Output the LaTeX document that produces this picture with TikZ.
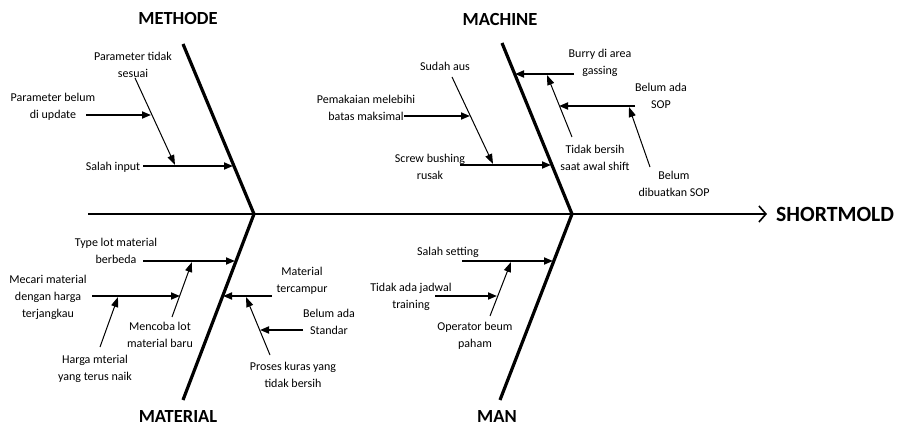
\documentclass[tikz,border=0pt]{standalone}
\usepackage{fontspec}
\setmainfont{Carlito}
\usetikzlibrary{arrows.meta}
\begin{document}
\begin{tikzpicture}[x=1pt,y=-1pt,
  bone/.style={line width=3.2pt},
  spine/.style={line width=2.8pt,-{Straight Barb[length=7pt,width=16pt,line width=1.6pt]}},
  harr/.style={line width=1.7pt,-{Triangle[length=9pt,width=7pt]}},
  darr/.style={line width=1pt,-{Triangle[length=10pt,width=7pt]}},
  cat/.style={font=\fontsize{18.5}{20}\selectfont\bfseries},
  head/.style={font=\fontsize{21.7}{24}\selectfont\bfseries,anchor=west,inner sep=0pt},
  cause/.style={font=\fontsize{12}{17}\selectfont,align=center,inner sep=0pt}]
\useasboundingbox (0,0) rectangle (902,427);
% spine
\coordinate (s0) at (88,214);
\coordinate (s1) at (767,214);
\draw[spine] (s0) -- (s1);
\node[head] (effect) at (776,214) {SHORTMOLD};
% bones
\coordinate (mt) at (183,44);  \coordinate (mb) at (254,214);
\coordinate (ct) at (502,43);  \coordinate (cb) at (572,214);
\coordinate (at) at (254,214); \coordinate (ab) at (183,400);
\coordinate (nt) at (572,214); \coordinate (nb) at (500,400);
\draw[bone] (mt) -- (mb);
\draw[bone] (ct) -- (cb);
\draw[bone] (at) -- (ab);
\draw[bone] (nt) -- (nb);
\node[cat] (lmethode) at (178,19) {METHODE};
\node[cat] (lmachine) at (500,20) {MACHINE};
\node[cat] (lmaterial) at (178,417) {MATERIAL};
\node[cat] (lman) at (497,417) {MAN};

% METHODE
\node[cause] (tm1) at (113,167) {Salah input};
\coordinate (m1a) at (143,166); \coordinate (m1b) at (233,166);
\draw[harr] (m1a) -- (m1b);
\node[cause] (tm2) at (133,65) {Parameter tidak\\sesuai};
\coordinate (m2a) at (135,78); \coordinate (m2b) at (175,165);
\draw[darr] (m2a) -- (m2b);
\node[cause] (tm3) at (53,107) {Parameter belum\\di update};
\coordinate (m3a) at (86,115); \coordinate (m3b) at (151,115);
\draw[harr] (m3a) -- (m3b);

% MACHINE
\node[cause] (tc1) at (430,167) {Screw bushing\\rusak};
\coordinate (c1a) at (460,165); \coordinate (c1b) at (551,165);
\draw[harr] (c1a) -- (c1b);
\node[cause] (tc2) at (445,66) {Sudah aus};
\coordinate (c2a) at (452,77); \coordinate (c2b) at (493,164);
\draw[darr] (c2a) -- (c2b);
\node[cause] (tc3) at (366,108) {Pemakaian melebihi\\batas maksimal};
\coordinate (c3a) at (404,116); \coordinate (c3b) at (470,116);
\draw[harr] (c3a) -- (c3b);
\node[cause] (tc4) at (600,63) {Burry di area\\gassing};
\coordinate (c4a) at (574,74); \coordinate (c4b) at (515,74);
\draw[harr] (c4a) -- (c4b);
\node[cause] (tc5) at (595,158) {Tidak bersih\\saat awal shift};
\coordinate (c5a) at (572,137); \coordinate (c5b) at (547,75);
\draw[darr] (c5a) -- (c5b);
\node[cause] (tc6) at (661,96) {Belum ada\\SOP};
\coordinate (c6a) at (635,106); \coordinate (c6b) at (559,106);
\draw[harr] (c6a) -- (c6b);
\node[cause] (tc7) at (674,184) {Belum\\dibuatkan SOP};
\coordinate (c7a) at (650,167); \coordinate (c7b) at (629,107);
\draw[darr] (c7a) -- (c7b);

% MATERIAL
\node[cause] (ta1) at (116,251) {Type lot material\\berbeda};
\coordinate (a1a) at (143,261); \coordinate (a1b) at (235,261);
\draw[harr] (a1a) -- (a1b);
\node[cause] (ta2) at (48,297) {Mecari material\\dengan harga\\terjangkau};
\coordinate (a2a) at (92,296); \coordinate (a2b) at (180,296);
\draw[harr] (a2a) -- (a2b);
\node[cause] (ta3) at (160,335) {Mencoba lot\\material baru};
\coordinate (a3a) at (172,317); \coordinate (a3b) at (192,262);
\draw[darr] (a3a) -- (a3b);
\node[cause] (ta4) at (95,369) {Harga mterial\\yang terus naik};
\coordinate (a4a) at (100,347); \coordinate (a4b) at (118,297);
\draw[darr] (a4a) -- (a4b);
\node[cause] (ta5) at (302,281) {Material\\tercampur};
\coordinate (a5a) at (272,296); \coordinate (a5b) at (223,296);
\draw[harr] (a5a) -- (a5b);
\node[cause] (ta6) at (329,322) {Belum ada\\Standar};
\coordinate (a6a) at (303,330); \coordinate (a6b) at (260,330);
\draw[harr] (a6a) -- (a6b);
\node[cause] (ta7) at (293,375) {Proses kuras yang\\tidak bersih};
\coordinate (a7a) at (270,355); \coordinate (a7b) at (246,297);
\draw[darr] (a7a) -- (a7b);

% MAN
\node[cause] (tn1) at (448,252) {Salah setting};
\coordinate (n1a) at (462,261); \coordinate (n1b) at (553,261);
\draw[harr] (n1a) -- (n1b);
\node[cause] (tn2) at (411,297) {Tidak ada jadwal\\training};
\coordinate (n2a) at (435,296); \coordinate (n2b) at (497,296);
\draw[harr] (n2a) -- (n2b);
\node[cause] (tn3) at (475,336) {Operator beum\\paham};
\coordinate (n3a) at (490,316); \coordinate (n3b) at (511,262);
\draw[darr] (n3a) -- (n3b);
\end{tikzpicture}
\end{document}
